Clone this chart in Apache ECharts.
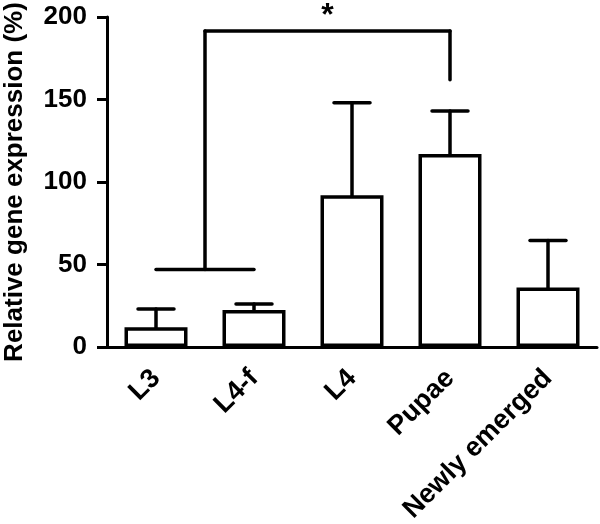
<!DOCTYPE html>
<html>
<head>
<meta charset="utf-8">
<script src="https://cdn.jsdelivr.net/npm/echarts@6/dist/echarts.min.js"></script>
<style>
  html, body { margin: 0; padding: 0; background: #fff; }
  #chart { width: 600px; height: 524px; }
</style>
</head>
<body>
<div id="chart"></div>
<script>
const categories = ["L3", "L4-f", "L4", "Pupae", "Newly emerged"];
const means = [12, 22.5, 92, 117, 36];
const errorTops = [23, 26, 148, 143, 64.5];
const yTicks = [0, 50, 100, 150, 200];

// significance bracket: group [L3, L4-f] vs Pupae
const groupIdx = [0, 1];
const compareIdx = 3;
const groupLineY = 47;
const bracketTopY = 191.5;
const bracketDropY = 162;
const sigLabel = "*";

const font = "'Liberation Sans', Arial, sans-serif";
const lineStyle = { stroke: "#000", lineWidth: 3.5, lineCap: "round", fill: null };

const chart = echarts.init(document.getElementById("chart"));

const renderError = (params, api) => {
  const i = api.value(0);
  const base = api.coord([i, api.value(1)]);
  const top = api.coord([i, api.value(2)]);
  const half = 18;
  return {
    type: "group",
    children: [
      { type: "line", shape: { x1: top[0], y1: base[1], x2: top[0], y2: top[1] }, style: lineStyle },
      { type: "line", shape: { x1: top[0] - half, y1: top[1], x2: top[0] + half, y2: top[1] }, style: lineStyle },
    ],
  };
};

const renderBracket = (params, api) => {
  const a = api.coord([groupIdx[0], groupLineY]);
  const b = api.coord([groupIdx[1], groupLineY]);
  const midX = (a[0] + b[0]) / 2;
  const topY = api.coord([compareIdx, bracketTopY])[1];
  const c = api.coord([compareIdx, bracketDropY]);
  return {
    type: "group",
    children: [
      { type: "line", shape: { x1: a[0], y1: a[1], x2: b[0], y2: b[1] }, style: lineStyle },
      { type: "line", shape: { x1: midX, y1: a[1], x2: midX, y2: topY }, style: lineStyle },
      { type: "line", shape: { x1: midX, y1: topY, x2: c[0], y2: topY }, style: lineStyle },
      { type: "line", shape: { x1: c[0], y1: topY, x2: c[0], y2: c[1] }, style: lineStyle },
      {
        type: "text",
        style: {
          text: sigLabel, x: (midX + c[0]) / 2, y: topY + 1,
          align: "center", verticalAlign: "bottom",
          font: "bold 32px " + font, fill: "#000",
        },
      },
    ],
  };
};

chart.setOption({
  animation: false,
  grid: { left: 107, right: 3, top: 17, bottom: 177, containLabel: false, outerBoundsMode: "none" },
  xAxis: {
    type: "category",
    data: categories,
    axisLine: { lineStyle: { color: "#000", width: 3 } },
    axisTick: { alignWithLabel: true, length: 9, lineStyle: { color: "#000", width: 3 } },
    axisLabel: {
      rotate: 45, margin: 27, color: "#000",
      fontFamily: font, fontWeight: "bold", fontSize: 27, interval: 0,
    },
  },
  yAxis: {
    type: "value",
    min: yTicks[0],
    max: yTicks[yTicks.length - 1],
    interval: 50,
    name: "Relative gene expression (%)",
    nameLocation: "middle",
    nameGap: 79,
    nameTextStyle: { color: "#000", fontFamily: font, fontWeight: "bold", fontSize: 26 },
    axisLine: { show: true, lineStyle: { color: "#000", width: 3 } },
    axisTick: { show: true, length: 10, lineStyle: { color: "#000", width: 3 } },
    axisLabel: { margin: 20, color: "#000", fontFamily: font, fontWeight: "bold", fontSize: 26 },
    splitLine: { show: false },
  },
  series: [
    {
      type: "bar",
      data: means,
      barWidth: 63,
      itemStyle: { color: "#fff", borderColor: "#000", borderWidth: 3.5 },
      z: 2,
    },
    {
      type: "custom",
      renderItem: renderError,
      data: means.map((m, i) => [i, m, errorTops[i]]),
      encode: { x: 0, y: [1, 2] },
      clip: false,
      z: 1,
    },
    {
      type: "custom",
      renderItem: renderBracket,
      data: [[0, 0]],
      clip: false,
      z: 3,
    },
  ],
});
</script>
</body>
</html>
